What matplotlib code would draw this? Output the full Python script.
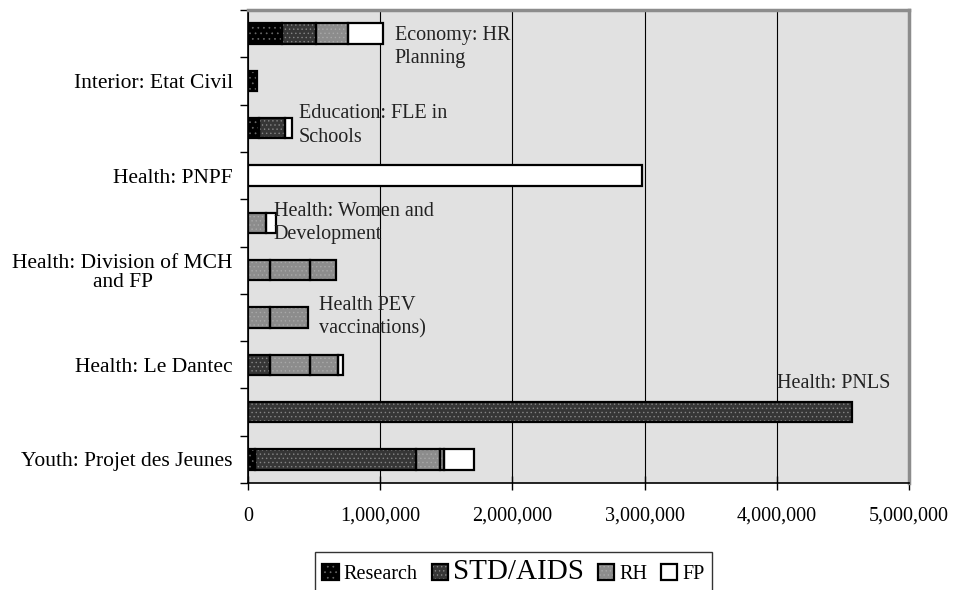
import matplotlib
matplotlib.use("Agg")
import matplotlib.pyplot as plt
from matplotlib.patches import Patch
from matplotlib.ticker import FuncFormatter, FixedLocator
import numpy as np

plt.rcParams['font.family'] = ['Liberation Serif', 'DejaVu Serif']
plt.rcParams['hatch.linewidth'] = 0.5

# categories, top to bottom
categories = ["Economy: HR Planning", "Interior: Etat Civil", "Education: FLE in Schools",
              "Health: PNPF", "Health: Women and Development", "Health: Division of MCH and FP",
              "Health PEV vaccinations)", "Health: Le Dantec", "Health: PNLS",
              "Youth: Projet des Jeunes"]

# funding by type (stack segments)
research = [260000, 65000, 80000, 0, 0, 0, 0, 0, 0, 53000]
std_aids = [255000, 0, 200000, 0, 0, 0, 0, 167000, 4570000, 1220000]
rh_a = [245000, 0, 0, 0, 136000, 167000, 167000, 303000, 0, 176000]
rh_b = [0, 0, 0, 0, 0, 305000, 290000, 213000, 0, 30000]
rh_c = [0, 0, 0, 0, 0, 197000, 0, 0, 0, 0]
fp = [260000, 0, 50000, 2980000, 73000, 0, 0, 34000, 0, 229000]

# labels shown on the axis (every other row) and the notes written in the plot
axis_rows = [1, 3, 5, 7, 9]
axis_labels = ["Interior: Etat Civil", "Health: PNPF", "Health: Division of MCH\nand FP",
               "Health: Le Dantec", "Youth: Projet des Jeunes"]
note_rows = [0, 2, 4, 6, 8]
note_texts = ["Economy: HR\nPlanning", "Education: FLE in\nSchools", "Health: Women and\nDevelopment",
              "Health PEV\nvaccinations)", "Health: PNLS"]
note_x = [1110000, 385000, 196000, 536000, 4000000]
note_dy = [0.28, -0.06, 0.0, 0.0, -0.61]

x_ticks = [0, 1000000, 2000000, 3000000, 4000000, 5000000]

# style per segment: (face, hatch, hatch colour)
styles = {
    "Research": ("#000000", "...", "#6a6a6a"),
    "STD/AIDS": ("#363636", "....", "#858585"),
    "RH": ("#8c8c8c", "....", "#a8a8a8"),
    "FP": ("#ffffff", None, "#ffffff"),
}
segments = [("Research", research), ("STD/AIDS", std_aids), ("RH", rh_a),
            ("RH", rh_b), ("RH", rh_c), ("FP", fp)]

fig = plt.figure(figsize=(9.54, 5.9), dpi=100)
ax = fig.add_axes([248 / 954, 1 - 483 / 590, (909 - 248) / 954, (483 - 10) / 590])
ax.set_facecolor("#e1e1e1")

y = np.arange(len(categories))
left = np.zeros(len(categories))
bar_h = 0.43
for name, vals in segments:
    vals = np.array(vals, dtype=float)
    face, hatch, hcol = styles[name]
    idx = np.where(vals > 0)[0]
    ax.barh(y[idx], vals[idx], left=left[idx], height=bar_h, color=face,
            hatch=hatch, edgecolor=hcol, linewidth=0, zorder=3)
    ax.barh(y[idx], vals[idx], left=left[idx], height=bar_h, fill=False,
            edgecolor="black", linewidth=1.6, zorder=4)
    left += vals

ax.set_xlim(0, 5000000)
ax.set_ylim(len(categories) - 0.5, -0.5)
ax.set_xticks(x_ticks)
ax.xaxis.set_major_formatter(FuncFormatter(lambda v, p: f"{int(v):,}"))
ax.tick_params(axis="x", direction="inout", length=10, width=1, pad=12, labelsize=14.5)
ax.grid(axis="x", color="black", linewidth=0.8, zorder=1)
ax.set_axisbelow(True)

ax.yaxis.set_major_locator(FixedLocator(np.arange(-0.5, len(categories), 1.0)))
ax.yaxis.set_major_formatter(FuncFormatter(lambda v, p: ""))
ax.yaxis.set_minor_locator(FixedLocator(axis_rows))
ax.set_yticklabels(axis_labels, minor=True, multialignment="center", linespacing=1.05)
ax.tick_params(axis="y", which="major", direction="out", length=6, width=1)
ax.tick_params(axis="y", which="minor", length=0, pad=11, labelsize=15.5)

for row, txt, nx, dy in zip(note_rows, note_texts, note_x, note_dy):
    ax.text(nx, row + dy, txt, fontsize=14.5, va="center", ha="left",
            linespacing=1.3, color="#222222", zorder=5)

for s in ["top", "right"]:
    ax.spines[s].set_color("#8c8c8c")
    ax.spines[s].set_linewidth(2.5)
ax.spines["left"].set_linewidth(1.2)
ax.spines["bottom"].set_linewidth(1.2)

handles = []
for name in ["Research", "STD/AIDS", "RH", "FP"]:
    face, hatch, hcol = styles[name]
    handles.append((Patch(facecolor=face, hatch=hatch, edgecolor=hcol, linewidth=0),
                    Patch(fill=False, edgecolor="black", linewidth=1.6)))
leg = fig.legend(handles, ["Research", "STD/AIDS", "RH", "FP"], ncol=4,
                 loc="upper center", bbox_to_anchor=(513.5 / 954, 1 - 552 / 590),
                 fontsize=14.5, frameon=True, fancybox=False, edgecolor="black",
                 handlelength=0.8, handleheight=0.8, handletextpad=0.25,
                 columnspacing=0.7, borderpad=0.35, borderaxespad=0)
leg.get_frame().set_linewidth(1)
leg.get_texts()[1].set_fontsize(21)

fig.savefig("out.png", dpi=100)
